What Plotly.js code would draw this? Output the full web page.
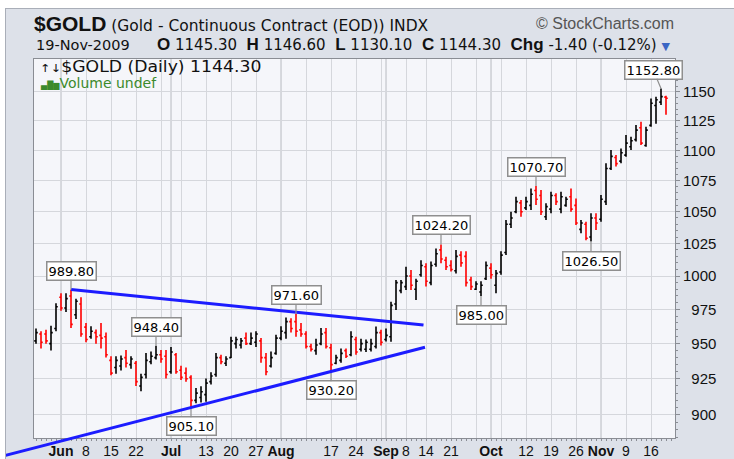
<!DOCTYPE html>
<html><head><meta charset="utf-8">
<script src="https://cdn.plot.ly/plotly-3.0.1.min.js"></script>
<style>
html,body{margin:0;padding:0;background:#fff;overflow:hidden;}
#wrap{position:absolute;left:5px;top:8px;width:729px;height:451px;background:#dde1e9;border-left:1px solid #a9aeb8;border-top:1px solid #a9aeb8;}
#chart{position:absolute;left:0;top:0;width:728px;height:450px;}
</style></head><body>
<div id="wrap"><div id="chart"></div></div>
<script>
// ---------- data ----------
const dates = [
'2009-05-22','2009-05-26','2009-05-27','2009-05-28','2009-05-29',
'2009-06-01','2009-06-02','2009-06-03','2009-06-04','2009-06-05',
'2009-06-08','2009-06-09','2009-06-10','2009-06-11','2009-06-12',
'2009-06-15','2009-06-16','2009-06-17','2009-06-18','2009-06-19',
'2009-06-22','2009-06-23','2009-06-24','2009-06-25','2009-06-26',
'2009-06-29','2009-06-30','2009-07-01','2009-07-02',
'2009-07-06','2009-07-07','2009-07-08','2009-07-09','2009-07-10',
'2009-07-13','2009-07-14','2009-07-15','2009-07-16','2009-07-17',
'2009-07-20','2009-07-21','2009-07-22','2009-07-23','2009-07-24',
'2009-07-27','2009-07-28','2009-07-29','2009-07-30','2009-07-31',
'2009-08-03','2009-08-04','2009-08-05','2009-08-06','2009-08-07',
'2009-08-10','2009-08-11','2009-08-12','2009-08-13','2009-08-14',
'2009-08-17','2009-08-18','2009-08-19','2009-08-20','2009-08-21',
'2009-08-24','2009-08-25','2009-08-26','2009-08-27','2009-08-28',
'2009-08-31','2009-09-01','2009-09-02','2009-09-03','2009-09-04',
'2009-09-08','2009-09-09','2009-09-10','2009-09-11',
'2009-09-14','2009-09-15','2009-09-16','2009-09-17','2009-09-18',
'2009-09-21','2009-09-22','2009-09-23','2009-09-24','2009-09-25',
'2009-09-28','2009-09-29','2009-09-30','2009-10-01','2009-10-02',
'2009-10-05','2009-10-06','2009-10-07','2009-10-08','2009-10-09',
'2009-10-12','2009-10-13','2009-10-14','2009-10-15','2009-10-16',
'2009-10-19','2009-10-20','2009-10-21','2009-10-22','2009-10-23',
'2009-10-26','2009-10-27','2009-10-28','2009-10-29','2009-10-30',
'2009-11-02','2009-11-03','2009-11-04','2009-11-05','2009-11-06',
'2009-11-09','2009-11-10','2009-11-11','2009-11-12','2009-11-13',
'2009-11-16','2009-11-17','2009-11-18','2009-11-19'
];
const openP = [952,957,957,950, 961,984,976,985,971, 979,962,955,958,956, 955,938,933,934,940, 935,936,920,928,937, 940,942,941,930,942,
 931,929,926,910,912, 914,923,928,940,936, 940,950,949,954,950, 951,952,940,934,943, 954,958,966,966,960, 957,948,945,950,958,
 947,936,938,945,942, 953,946,946,946,948, 958,953,955,979,989, 992,1000,990,1001, 1007,995,1009,1020,1012, 1008,1004,1016,1015,997,
 990,988,998,1006,993, 1003,1018,1040,1050,1057, 1053,1055,1067,1063,1046, 1052,1063,1052,1055,1062, 1055,1036,1040,1030,1045,
 1044,1058,1085,1094,1091, 1096,1103,1109,1119,1104, 1121,1138,1141,1145.3];
const highP = [961,959,960,963, 979.5,987,987,989.8,983, 984,965,962.6,960.3,965, 958,941,941,941.5,945.4, 941,937.5,928.5,943.2,944.3, 948.4,945.4,945.4,947.6,943.2,
 934.2,933,927.5,918.6,919.8, 925.3,929.7,943.2,942,941, 955,955,954,958,958, 959,954,943.2,944.3,956.5, 962.6,969,968.5,971.6,965, 959,950,953.5,961.4,961.4,
 950,942,946.5,946.5,959, 955,953.5,953,953.5,962.5, 960,961,980.7,997,997, 1007,1004.6,998,1012, 1009.7,1011,1021,1024.2,1014.8, 1012,1020,1019,1019,999.5,
 996,996,1011,1009.7,1004.6, 1019,1043.4,1050,1062,1059.3, 1062,1068.7,1070.7,1067.4,1056.7, 1066,1064.7,1066,1062,1068.7, 1060.6,1043.4,1042,1048.7,1048.7,
 1063.4,1089.2,1100.3,1096.1,1101.6, 1112.8,1111.4,1121.3,1124.2,1119.9, 1144.2,1145.6,1152.8,1146.6];
const lowP = [950,946.5,950,945, 959,974,973,961.4,968, 955,951,953.5,950,946.5, 940,927.5,928.5,930.8,933, 932,920,916.4,925.3,935.3, 938.6,936.4,925.3,928.5,928.5,
 924.2,923,905.1,908,908.5, 909,921,926.4,935.3,934, 939.8,946.5,946.5,949,949, 947.6,936.4,927.5,933,942, 952.5,953.5,958,955,955, 946.5,944.3,942,948.9,946.5,
 930.2,935.3,936.4,939.8,941, 942,944.3,944,944.3,946.5, 948.7,951.5,951.4,974.6,987, 989.4,989.4,982,999.5, 992,993,1007,1009.7,1004.6, 1003.4,1002,1007,992,989.4,
 989.4,985,997,998,987, 1001,1016,1037,1048.7,1046, 1051.3,1051.3,1055.3,1047.4,1043.4, 1048.7,1055.3,1048.7,1053.9,1050, 1039.5,1032.9,1027.5,1026.5,1035.5,
 1042,1055.3,1083.7,1086.5,1089.2, 1094.7,1100.3,1107.3,1104.5,1103, 1119.9,1122.4,1138.5,1130.1];
const closeP = [958,951,952,958, 977,976,983,964,981, 957,953,959,955,954, 942,929,938,939,936, 939,923,926,938,941, 942,939,928,944,930,
 926,925,910,915,916, 922,927,940,937,939, 952,953,952,950,954, 957,940,930,940,954, 959,966,961,959,957, 948,946,949,957,948,
 935,940,943,941,955, 944,950,951,950,958, 951,956,978,995,995, 1000,993,996,1008, 996,1008,1017,1013,1007, 1005,1015,1010,995,992,
 994,993,1008,1001,1002, 1016,1040,1045,1058,1050, 1058,1064,1060,1050,1054, 1063,1058,1062,1060,1052, 1041,1041,1029,1045,1041,
 1060,1085,1095,1089,1098, 1106,1108,1117,1106,1117, 1140,1143,1145.7,1144.3];

// x-axis labels (trading dates they mark)
const tickDates = ['2009-06-01','2009-06-08','2009-06-15','2009-06-22','2009-07-01','2009-07-13','2009-07-20','2009-07-27',
 '2009-08-03','2009-08-17','2009-08-24','2009-09-01','2009-09-08','2009-09-14','2009-09-21','2009-10-01','2009-10-12',
 '2009-10-19','2009-10-26','2009-11-02','2009-11-09','2009-11-16'];
const tickLabels = ['<b>Jun</b>','8','15','22','<b>Jul</b>','13','20','27','<b>Aug</b>','17','24','<b>Sep</b>','8','14','21',
 '<b>Oct</b>','12','19','26','<b>Nov</b>','9','16'];
// weekly grid lines (first trading day of each week)
const gridDates = ['2009-06-01','2009-06-08','2009-06-15','2009-06-22','2009-06-29','2009-07-06','2009-07-13','2009-07-20',
 '2009-07-27','2009-08-03','2009-08-10','2009-08-17','2009-08-24','2009-08-31','2009-09-08','2009-09-14','2009-09-21',
 '2009-09-28','2009-10-05','2009-10-12','2009-10-19','2009-10-26','2009-11-02','2009-11-09','2009-11-16'];
const monthStarts = ['2009-06-01','2009-07-01','2009-08-03','2009-09-01','2009-10-01','2009-11-02'];
const yTickVals = [900,925,950,975,1000,1025,1050,1075,1100,1125,1150];

// labelled highs / lows
const calloutDates = ['2009-06-03','2009-06-26','2009-07-08','2009-08-06','2009-08-17','2009-09-17','2009-09-29','2009-10-14','2009-10-29','2009-11-18'];
const calloutSide  = ['high','high','low','high','low','high','low','high','low','high'];

// trend lines (bar index, price)
const upperTrendIdx = [7, 77.5],   upperTrendVal = [989.8, 963.5];
const lowerTrendIdx = [-7.2, 77.8], lowerTrendVal = [871.9, 947.4];

// ---------- build ----------
const idx = dates.map((d,i)=>i);
const W = 728, H = 450, M = {l:28, r:59, t:50, b:21};
const px = x => (x - 6 - M.l) / (W - M.l - M.r);
const py = y => (H - M.b - (y - 9)) / (H - M.t - M.b);
const SANS = 'Liberation Sans, Arial, sans-serif';
const VERD = 'DejaVu Sans, Verdana, sans-serif';
const BLUE = '#1c1cff';

const n = dates.length - 1;
const last = {o: openP[n], h: highP[n], l: lowP[n], c: closeP[n]};
const chg = last.c - closeP[n-1];
const chgPct = chg / closeP[n-1] * 100;
const dd = new Date(dates[n] + 'T00:00:00');
const mon = ['Jan','Feb','Mar','Apr','May','Jun','Jul','Aug','Sep','Oct','Nov','Dec'][dd.getMonth()];
const dateStr = dd.getDate() + '-' + mon + '-' + dd.getFullYear();

// x ticks: grid positions + labels
const tickMap = new Map();
gridDates.forEach(g => tickMap.set(dates.indexOf(g), ''));
tickDates.forEach((t,k) => tickMap.set(dates.indexOf(t), tickLabels[k]));
const xTickVals = [...tickMap.keys()].sort((a,b)=>a-b);
const xTickText = xTickVals.map(v => tickMap.get(v));

const traces = [
  {type:'ohlc', x: idx, open: openP, high: highP, low: lowP, close: closeP,
   increasing:{line:{color:'#000000', width:1.6}}, decreasing:{line:{color:'#ff0000', width:1.6}},
   tickwidth:0.35, hoverinfo:'skip', showlegend:false},
  {type:'scatter', mode:'lines', x: upperTrendIdx, y: upperTrendVal,
   line:{color:BLUE, width:3}, hoverinfo:'skip', showlegend:false}
];

const annotations = [];
calloutDates.forEach((cd, k) => {
  const i = dates.indexOf(cd);
  const v = calloutSide[k] === 'high' ? highP[i] : lowP[i];
  annotations.push({x: i, y: Math.log10(v), xref:'x', yref:'y', text: v.toFixed(2),
    showarrow:true, arrowhead:0, arrowwidth:1.2, arrowcolor:'#8f8f8f',
    ax: (i === n-1 ? -8 : 0), ay: calloutSide[k] === 'high' ? -19 : 19,
    bgcolor:'#ffffff', bordercolor:'#8f8f8f', borderwidth:1.5, borderpad:1,
    font:{family:VERD, size:13, color:'#000'}});
});
// lower trend line (extends past the plot frame)
annotations.push({x: lowerTrendIdx[1], y: Math.log10(lowerTrendVal[1]), xref:'x', yref:'y',
  ax: lowerTrendIdx[0], ay: Math.log10(lowerTrendVal[0]), axref:'x', ayref:'y',
  text:'', showarrow:true, arrowhead:0, arrowwidth:3, arrowcolor:BLUE, standoff:0, startstandoff:0});
// header
const B = s => '<span style="font-family:Liberation Sans, Arial, sans-serif;font-size:17px"><b>' + s + '</b></span>';
annotations.push({xref:'paper', yref:'paper', x: px(32), y: py(23), xanchor:'left', yanchor:'middle', showarrow:false,
  text:'<span style="font-family:Liberation Sans, Arial, sans-serif;font-size:21px"><b>$GOLD</b></span> (Gold - Continuous Contract (EOD)) INDX',
  font:{family:VERD, size:15.5, color:'#111'}});
annotations.push({xref:'paper', yref:'paper', x: px(676), y: py(24), xanchor:'right', yanchor:'middle', showarrow:false,
  text:'© StockCharts.com', font:{family:SANS, size:16, color:'#555'}});
annotations.push({xref:'paper', yref:'paper', x: px(34), y: py(45), xanchor:'left', yanchor:'middle', showarrow:false,
  text: dateStr, font:{family:VERD, size:14.5, color:'#111'}});
annotations.push({xref:'paper', yref:'paper', x: px(155), y: py(45), xanchor:'left', yanchor:'middle', showarrow:false,
  text: B('O') + ' ' + last.o.toFixed(2) + '  ' + B('H') + ' ' + last.h.toFixed(2) + '  ' + B('L') + ' ' + last.l.toFixed(2) +
       '  ' + B('C') + ' ' + last.c.toFixed(2) + '  ' + B('Chg') + ' ' + chg.toFixed(2) + ' (' + chgPct.toFixed(2) + '%)' +
       ' <span style="color:#3a66c4;font-size:11px">▼</span>',
  font:{family:VERD, size:15, color:'#111'}});
// legend text
const wideIdx = annotations.length;
annotations.push({xref:'paper', yref:'paper', x: px(38), y: py(66.5), xanchor:'left', yanchor:'middle', showarrow:false,
  text:'<span style="font-size:11px">↑↓</span>$GOLD (Daily) ' + last.c.toFixed(2),
  font:{family:VERD, size:15, color:'#111'}});
annotations.push({xref:'paper', yref:'paper', x: px(38), y: py(82.5), xanchor:'left', yanchor:'middle', showarrow:false,
  text:'<span style="font-size:8px">▄█▆</span>Volume undef',
  font:{family:VERD, size:14, color:'#3c8a2c'}});

const shapes = monthStarts.map(ms => ({type:'line', xref:'x', yref:'paper', x0: dates.indexOf(ms), x1: dates.indexOf(ms),
  y0:0, y1:1, line:{color:'#b9bcc3', width:1}, layer:'below'}));

const yMinor = [];
for (let v = 885; v <= 1175; v += 5) if (v % 25) yMinor.push(v);

const layout = {
  width: W, height: H, margin: M,
  paper_bgcolor:'#dde1e9', plot_bgcolor:'#f5f6fa',
  showlegend:false, dragmode:false,
  xaxis:{type:'linear', range:[-0.4, 127.8], tickmode:'array', tickvals: xTickVals, ticktext: xTickText,
    tickfont:{family:SANS, size:14, color:'#111'}, ticks:'', showgrid:true, gridcolor:'#d5d7dc', gridwidth:1,
    showline:true, linecolor:'#8a8d94', linewidth:1, mirror:true, zeroline:false,
    minor:{tickmode:'linear', tick0:0, dtick:1, ticks:'outside', ticklen:2, tickcolor:'#8a8d94', showgrid:false},
    rangeslider:{visible:false}, fixedrange:true},
  yaxis:{type:'log', side:'right', range:[Math.log10(884.4), Math.log10(1178.9)], tickmode:'array',
    tickvals: yTickVals, ticktext: yTickVals.map(v => (v < 1000 ? '\u00a0\u00a0' : '') + v),
    tickfont:{family:SANS, size:15, color:'#111'}, ticks:'outside', ticklen:4, tickcolor:'#8a8d94',
    showgrid:true, gridcolor:'#d5d7dc', showline:true, linecolor:'#8a8d94', mirror:true, zeroline:false,
    minor:{tickmode:'array', tickvals: yMinor, ticks:'outside', ticklen:2, tickcolor:'#8a8d94', showgrid:false},
    fixedrange:true},
  annotations: annotations, shapes: shapes
};

Plotly.newPlot('chart', traces, layout, {displayModeBar:false, staticPlot:true}).then(() => {
  document.querySelectorAll('#chart .annotation').forEach(g => {
    const k = +g.getAttribute('data-index');
    const t = g.querySelector('text.annotation-text');
    if (!t || k !== wideIdx) return;
    t.style.transformBox = 'fill-box';
    t.style.transformOrigin = '0% 50%';
    t.style.transform = 'scaleX(1.15)';
  });
});
</script>
</body></html>
